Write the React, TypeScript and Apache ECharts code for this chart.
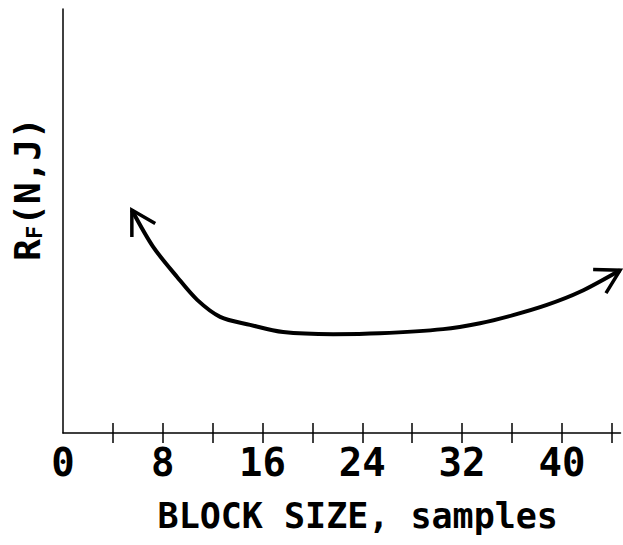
import React, { useEffect, useRef } from "react";
import * as echarts from "echarts";

const curveX = [5.52, 7.23, 9.15, 10.76, 12.6, 15.0, 17.65, 21.66, 25.4, 30.48, 33.44, 36.09, 38.8, 41.46, 44.67];
const curveY = [5.26, 4.39, 3.68, 3.14, 2.74, 2.55, 2.38, 2.33, 2.35, 2.45, 2.59, 2.78, 3.02, 3.33, 3.84];
const tickValues = [4, 8, 12, 16, 20, 24, 28, 32, 36, 40, 44];
const labelValues = [0, 8, 16, 24, 32, 40];
const xTitle = "BLOCK SIZE, samples";

const FONT = "DejaVu Sans Mono";

export default function App() {
  const ref = useRef<HTMLDivElement>(null);
  useEffect(() => {
    if (!ref.current) return;
    const chart = echarts.init(ref.current, null, { renderer: "svg" });
    const pts = curveX.map((x, i) => [x, curveY[i]]);
    const n = pts.length;
    const arrows = [
      [pts[0][0], pts[0][1], pts[1][0], pts[1][1]],
      [pts[n - 1][0], pts[n - 1][1], pts[n - 2][0], pts[n - 2][1]],
    ];
    const xMax = 44.7;
    const baseAxis = { type: "value", min: 0, max: xMax, position: "bottom" };
    chart.setOption({
      animation: false,
      backgroundColor: "#ffffff",
      grid: { left: 63, right: 2.5, top: 9, bottom: 112 },
      xAxis: [
        {
          ...baseAxis,
          name: xTitle,
          nameLocation: "middle",
          nameGap: 65,
          nameTextStyle: {
            fontFamily: FONT,
            fontWeight: "bold",
            fontSize: 35,
            color: "#000",
            padding: [0, 0, 0, 32],
          },
          splitLine: { show: false },
          axisLine: { show: true, lineStyle: { color: "#000", width: 1.5 } },
          axisTick: { show: true, length: 10, inside: false, customValues: tickValues, lineStyle: { color: "#000", width: 1.5 } },
          axisLabel: {
            show: true,
            customValues: labelValues,
            margin: 10,
            fontFamily: FONT,
            fontWeight: "bold",
            fontSize: 39,
            color: "#000",
          },
        },
        {
          ...baseAxis,
          splitLine: { show: false },
          axisLine: { show: false },
          axisTick: { show: true, length: 10, inside: true, customValues: tickValues, lineStyle: { color: "#000", width: 1.5 } },
          axisLabel: { show: false },
        },
      ],
      yAxis: {
        type: "value",
        min: 0,
        max: 10,
        name: "{r|R}{s|F}{r|(N,J)}",
        nameLocation: "middle",
        nameGap: 18,
        nameRotate: 90,
        nameTextStyle: {
          padding: [0, 0, 0, 64],
          rich: {
            r: { fontFamily: FONT, fontWeight: "bold", fontSize: 36, color: "#000" },
            s: { fontFamily: FONT, fontWeight: "bold", fontSize: 22, color: "#000", verticalAlign: "bottom" },
          },
        },
        splitLine: { show: false },
        axisLine: { show: true, lineStyle: { color: "#000", width: 1.5 } },
        axisTick: { show: false },
        axisLabel: { show: false },
      },
      series: [
        {
          type: "line",
          data: pts,
          smooth: 0.3,
          showSymbol: false,
          clip: false,
          lineStyle: { color: "#000", width: 4 },
          xAxisIndex: 0,
        },
        {
          type: "custom",
          xAxisIndex: 0,
          clip: false,
          data: arrows,
          renderItem: (params: any, api: any) => {
            const tip = api.coord([api.value(0), api.value(1)]);
            const prev = api.coord([api.value(2), api.value(3)]);
            const ang = Math.atan2(prev[1] - tip[1], prev[0] - tip[0]);
            const L = 27;
            const h = (30 * Math.PI) / 180;
            const b1 = [tip[0] + L * Math.cos(ang - h), tip[1] + L * Math.sin(ang - h)];
            const b2 = [tip[0] + L * Math.cos(ang + h), tip[1] + L * Math.sin(ang + h)];
            return {
              type: "polyline",
              shape: { points: [b1, tip, b2] },
              style: { stroke: "#000", lineWidth: 3.5, fill: null, lineJoin: "miter" },
            };
          },
        },
      ],
    });
    return () => chart.dispose();
  }, []);
  return <div ref={ref} style={{ position: "fixed", left: 0, top: 0, width: 623, height: 545 }} />;
}
